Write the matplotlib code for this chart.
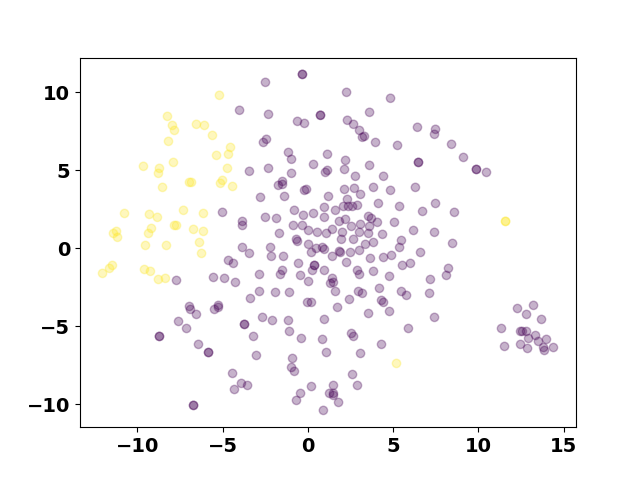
import matplotlib.pyplot as plt
import numpy as np

# embedding coordinates, class 0 (purple)
x0 = [-0.32, -0.32, -2.49, -4.01, -2.31, -0.61, -0.20, 0.74, 0.74, -2.43, -2.61, -1.14, -0.96,
      0.33, 1.15, 1.03, 1.15, -3.43, -2.31, -0.96, -1.49, 2.27, 4.85, 3.62, 2.32, 2.68, 3.03,
      3.32, 3.20, 3.97, 5.26, 6.43, 7.49, 7.43, 8.43, 2.21, 2.15, 2.79, 3.62, 4.44, 6.49, 6.49,
      9.13, 9.89, 9.89, 10.48,
      -1.73, -1.49, -0.20, -0.08, 1.21, -2.78, -1.37, -5.01, -3.84, -3.84, -2.49, -1.84, -0.79,
      -0.26, 0.33, 0.97, 0.97, -0.85, -0.32, 0.04, 0.56, 1.09, -1.67, -0.67, -0.61, 0.04, 0.50,
      0.86, 0.97, 0.21, -3.84, -3.43, -2.19, -2.14, -1.43, -4.66, -4.37, -0.55, 0.39, 0.39,
      0.27, 0.97, -2.84, -1.49, -1.61, -0.43, -5.54, -4.89, -4.25, 0.04, 1.33, -2.84, -1.90,
      -1.08, -3.37, -5.25, -0.02, 0.21,
      2.15, 2.73, 3.09, 3.85, 4.85, 6.31, 2.32, 2.09, 2.38, 2.62, 2.91, 1.62, 4.14, 5.38, 6.73,
      7.49, 8.60, 1.85, 2.21, 3.56, 3.73, 4.08, 5.08, 1.44, 2.56, 3.09, 3.62, 2.03, 3.03, 3.56,
      4.38, 6.20, 7.43, 1.97, 2.68, 5.49, 3.38, 3.85, 5.38, 8.49, 1.85, 1.91, 2.50, 3.03, 1.44,
      3.67, 4.44, 4.91, 6.61, 2.27, 5.55, 6.02, 2.91, 3.03, 3.85, 4.79, 8.25, 8.13, 7.19, 1.44,
      1.50, 1.62, 2.97, 3.20, 4.20, 5.49, 5.79, 7.14, 2.44, 4.32, 4.44,
      -7.71, -6.95, -6.89, -6.54, -7.59, -7.12, -8.71, -8.71, -6.42, -5.83, -5.83, -6.71, -6.71,
      -5.48, -5.25, -3.72, -3.72, -2.66, -2.08, -1.14, -1.08, -0.38, 0.97, 0.86, 1.09, -3.19,
      -3.02, -0.90, -0.96, -0.79, -4.42, -3.90, -3.54, -4.31, 0.21, -0.43, -0.67, 1.27, 0.91,
      1.74, 3.56, 4.79, 7.43, 5.90, 2.56, 2.68, 4.32, 3.09, 2.62, 1.50, 2.91, 1.50, 1.50, 1.80,
      12.30, 13.24, 12.83, 13.71, 11.36, 12.48, 12.59, 12.83, 12.95, 13.36, 13.53, 14.00, 11.54,
      12.48, 12.89, 13.83, 13.88, 14.41]
y0 = [11.15, 11.15, 10.64, 8.85, 8.59, 8.14, 8.01, 8.53, 8.53, 6.99, 6.79, 6.15, 5.71,
      5.38, 6.03, 4.87, 5.00, 4.94, 5.13, 4.81, 4.29, 10.00, 9.62, 8.72, 8.21, 7.95, 7.56,
      7.18, 7.12, 6.79, 6.60, 7.76, 7.63, 7.31, 6.67, 5.64, 5.06, 4.62, 5.32, 4.62, 5.51, 5.51,
      5.83, 5.06, 5.06, 4.87,
      4.04, 4.10, 3.72, 3.78, 3.33, 3.27, 3.33, 2.31, 1.73, 1.47, 1.99, 1.92, 2.44,
      2.12, 2.24, 2.63, 1.99, 1.47, 1.47, 1.15, 1.03, 0.96, 0.96, 0.58, 0.45, 0.26, 0.00,
      0.06, -0.06, -0.26, 0.06, -0.32, 0.06, -0.51, -0.51, -0.77, -0.96, -0.96, -1.09, -1.09,
      -1.41, -1.41, -1.67, -1.41, -1.67, -1.73, -1.86, -1.92, -2.18, -2.12, -2.24, -2.76, -2.82,
      -2.82, -3.21, -3.65, -3.46, -3.46,
      3.78, 3.85, 3.46, 3.91, 3.72, 3.91, 3.14, 2.69, 2.69, 2.69, 2.76, 2.44, 2.88, 2.69, 2.37,
      2.88, 2.31, 1.73, 1.86, 2.05, 1.92, 1.67, 1.67, 1.22, 1.41, 1.54, 1.41, 1.03, 1.03, 0.96,
      0.90, 1.15, 1.03, 0.58, 0.58, 0.51, 0.26, 0.38, 0.06, 0.32, -0.19, -0.26, -0.26, -0.13, -0.51,
      -0.64, -0.58, -0.45, -0.26, -0.90, -1.09, -0.96, -1.41, -1.67, -1.47, -1.79, -1.28, -1.73, -1.99, -1.92,
      -2.18, -2.76, -2.76, -2.88, -2.56, -2.76, -3.01, -2.88, -3.27, -3.33, -3.46,
      -2.05, -3.72, -3.91, -4.23, -4.68, -5.13, -5.64, -5.64, -6.15, -6.67, -6.67, -10.06, -10.06,
      -3.91, -3.78, -4.87, -4.87, -4.42, -4.62, -4.62, -5.32, -5.77, -4.55, -5.83, -6.67, -5.64,
      -6.86, -7.05, -7.63, -7.88, -8.01, -8.65, -8.78, -9.04, -8.85, -9.29, -9.74, -9.29, -10.38,
      -3.78, -4.17, -4.04, -4.42, -5.13, -5.45, -5.64, -6.15, -6.73, -8.08, -8.78, -8.78, -9.29, -9.42, -9.87,
      -3.85, -3.65, -4.23, -4.55, -5.13, -5.32, -5.32, -5.32, -5.77, -5.58, -5.96, -5.83, -6.28,
      -6.15, -6.41, -6.35, -6.54, -6.35]

# class 1 (yellow)
x1 = [-8.24, -7.95, -7.83, -8.18, -6.54, -6.07, -5.19, -5.60, -4.54, -5.36, -4.66, -9.65,
      -8.71, -8.77, -7.89, -4.72, -6.95, -6.83, -5.01, -5.13, -4.42, -8.53, -10.76, -9.30,
      -8.83, -7.30, -6.13, -9.18, -9.35, -11.23, -11.41, -11.17, -7.83, -7.71, -6.71, -6.13,
      -9.53, -8.30, -6.36, -6.24, -11.47, -11.64, -12.05, -9.59, -9.24, -8.77, -8.36,
      11.60, 11.60, 5.20]
y1 = [8.46, 7.88, 7.56, 6.86, 7.95, 7.88, 9.81, 7.24, 6.47, 5.96, 6.03, 5.26,
      5.13, 4.81, 5.51, 5.13, 4.23, 4.23, 4.36, 4.17, 3.97, 3.91, 2.24, 2.18,
      1.99, 2.44, 2.24, 1.28, 0.96, 1.09, 0.96, 0.71, 1.47, 1.47, 1.22, 1.09,
      0.19, 0.19, 0.38, -0.32, -1.09, -1.28, -1.60, -1.35, -1.47, -1.99, -1.92,
      1.73, 1.73, -7.37]

x = np.array(x0 + x1)
y = np.array(y0 + y1)
labels = np.array([0] * len(x0) + [1] * len(x1))

plt.figure(figsize=(6.4, 4.8), dpi=100)
plt.scatter(x, y, c=labels, cmap='viridis', alpha=0.3)
plt.xticks(fontsize=14, fontweight='bold')
plt.yticks(fontsize=14, fontweight='bold')
plt.savefig('out.png', dpi=100)
